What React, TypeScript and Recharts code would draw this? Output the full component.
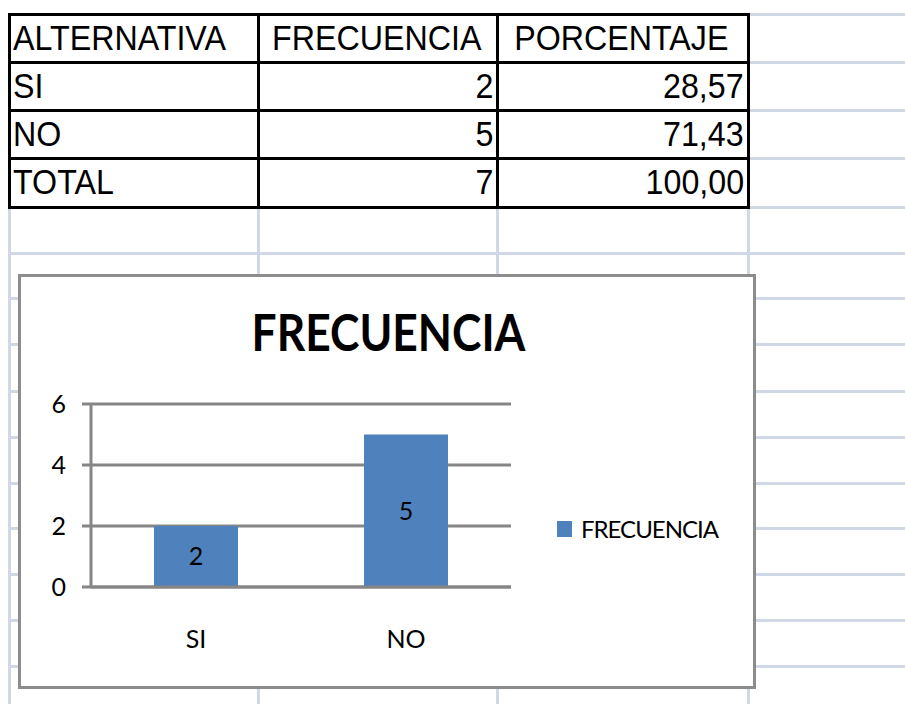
import React from 'react';
import { Bar, BarChart, CartesianGrid, LabelList, Legend, XAxis, YAxis } from 'recharts';

// table + chart values
const headers = ['ALTERNATIVA', 'FRECUENCIA', 'PORCENTAJE'];
const alternativas = ['SI', 'NO'];
const frecuencias = [2, 5];
const porcentajes = ['28,57', '71,43'];
const totalLabel = 'TOTAL';
const totalFrecuencia = 7;
const totalPorcentaje = '100,00';
const yTicks = [0, 2, 4, 6];
const seriesName = 'FRECUENCIA';

const chartData = alternativas.map((alternativa, i) => ({ alternativa, frecuencia: frecuencias[i] }));
const edgeTicks = [...alternativas.map((_, i) => i), alternativas.length];

// sheet layout
const colX = [9, 258, 497, 748];
const rowY = [14, 62, 110, 158, 207];
const sheetRows = [14, 62, 110, 158, 207, 253, 298, 344, 391, 437, 483, 528, 574, 620, 666];
const GRID_COLOR = '#d0d7e5';
const AXIS_COLOR = '#868686';
const BAR_COLOR = '#4f81bd';

const tableRows: (string | number)[][] = [
  headers,
  ...alternativas.map((a, i) => [a, frecuencias[i], porcentajes[i]]),
  [totalLabel, totalFrecuencia, totalPorcentaje],
];

function SheetGrid() {
  return (
    <>
      {sheetRows.map((y) => (
        <div key={'h' + y} style={{ position: 'absolute', left: 9, top: y - 1, width: 896, height: 3, background: GRID_COLOR }} />
      ))}
      {colX.map((x) => (
        <div key={'v' + x} style={{ position: 'absolute', left: x - 1, top: 14, width: 3, height: 690, background: GRID_COLOR }} />
      ))}
    </>
  );
}

function DataTable() {
  const cells: React.ReactNode[] = [];
  tableRows.forEach((row, r) => {
    row.forEach((value, c) => {
      const align = c === 0 ? 'left' : r === 0 ? 'center' : 'right';
      cells.push(
        <div
          key={r + '-' + c}
          style={{
            position: 'absolute',
            left: colX[c] - 1,
            top: rowY[r] - 1,
            width: colX[c + 1] - colX[c] + 3,
            height: rowY[r + 1] - rowY[r] + 3,
            border: '3px solid #000',
            boxSizing: 'border-box',
            background: '#fff',
            fontFamily: '"Liberation Sans", Arial, sans-serif',
            fontSize: 35,
            lineHeight: '43px',
            color: '#000',
            textAlign: align,
            paddingLeft: c === 0 ? 2 : 0,
            paddingRight: c === 0 ? 0 : 3,
            whiteSpace: 'nowrap',
            overflow: 'visible',
          }}
        >
          <span style={{ display: 'inline-block', transform: 'scaleX(0.92)', transformOrigin: align }}>{value}</span>
        </div>
      );
    });
  });
  return <>{cells}</>;
}

function LegendContent({ payload }: any) {
  return (
    <div style={{ display: 'flex', alignItems: 'center', height: 30 }}>
      {(payload || []).map((p: any) => (
        <div key={p.value} style={{ display: 'flex', alignItems: 'center' }}>
          <span style={{ display: 'inline-block', width: 15, height: 16, background: p.color, marginRight: 9 }} />
          <span style={{ fontFamily: 'Lato', fontSize: 24, letterSpacing: -1, lineHeight: '30px', color: '#000' }}>{p.value}</span>
        </div>
      ))}
    </div>
  );
}

function FrecuenciaChart() {
  const axisStroke = { stroke: AXIS_COLOR, strokeWidth: 3 };
  return (
    <div style={{ position: 'absolute', left: 19, top: 275, width: 736, height: 413, background: '#fff' }}>
      <BarChart
        width={736}
        height={413}
        data={chartData}
        margin={{ top: 129, right: 244, bottom: 41, left: 0 }}
        barCategoryGap="30%"
        style={{ fontFamily: 'Lato' }}
      >
        <CartesianGrid vertical={false} stroke={AXIS_COLOR} strokeWidth={3} />
        <XAxis
          xAxisId="edge"
          type="number"
          domain={[0, alternativas.length]}
          ticks={edgeTicks}
          allowDataOverflow
          height={0}
          tick={false}
          tickSize={10}
          axisLine={false}
          tickLine={axisStroke}
        />
        <XAxis
          dataKey="alternativa"
          height={60}
          tickLine={false}
          tickSize={0}
          tickMargin={43}
          axisLine={axisStroke}
          tick={{ fill: '#000', fontSize: 25 }}
        />
        <YAxis
          domain={[0, 6]}
          ticks={yTicks}
          interval={0}
          width={72}
          tickSize={9}
          tickMargin={16}
          axisLine={axisStroke}
          tickLine={axisStroke}
          tick={{ fill: '#000', fontSize: 25 }}
        />
        <Bar dataKey="frecuencia" name={seriesName} fill={BAR_COLOR} isAnimationActive={false}>
          <LabelList dataKey="frecuencia" position="center" fill="#000" fontSize={25} />
        </Bar>
        <Legend
          layout="horizontal"
          verticalAlign="middle"
          align="center"
          wrapperStyle={{ left: 538, top: 239, width: 'auto', height: 30 }}
          content={LegendContent}
        />
      </BarChart>
      <div
        style={{
          position: 'absolute',
          left: 0,
          top: 31,
          width: 739,
          textAlign: 'center',
          fontFamily: 'Lato',
          fontWeight: 700,
          fontSize: 51,
          lineHeight: 1,
          color: '#000',
          transform: 'scaleX(0.87)',
        }}
      >
        {seriesName}
      </div>
      <div
        style={{
          position: 'absolute',
          left: -1,
          top: -1,
          width: 738,
          height: 415,
          border: '3px solid #8c8c8c',
          boxSizing: 'border-box',
          pointerEvents: 'none',
        }}
      />
    </div>
  );
}

export default function App() {
  return (
    <div style={{ position: 'absolute', left: 0, top: 0, width: 905, height: 704, background: '#fff', overflow: 'hidden' }}>
      <SheetGrid />
      <DataTable />
      <FrecuenciaChart />
    </div>
  );
}
